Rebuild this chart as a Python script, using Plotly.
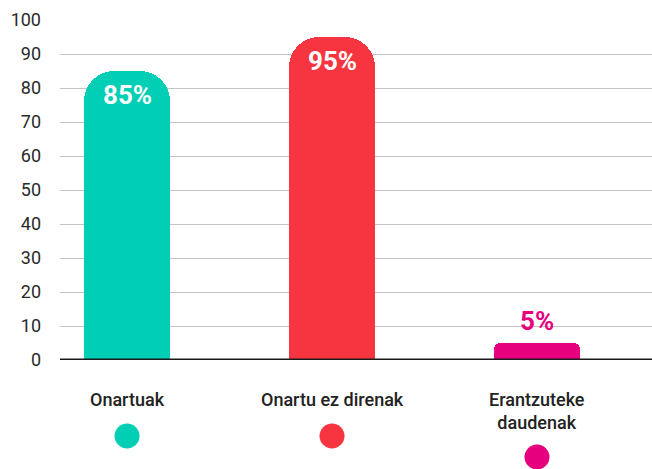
import plotly.graph_objects as go

categories = ["Onartuak", "Onartu ez direnak", "Erantzuteke<br>daudenak"]
values = [85, 95, 5]
value_labels = ["85%", "95%", "5%"]
colors = ["#00CEB5", "#F73541", "#E6007E"]
tick_vals = list(range(0, 101, 10))

# style constants (pixel offsets below axis for legend dots)
dot_offsets_px = [76, 76, 97]
DOT_R = 12.5
corner_radii = [30, 30, 6]

fig = go.Figure()
xs = [0, 1, 2]
for i in range(3):
    fig.add_trace(go.Bar(
        x=[xs[i]], y=[values[i]], width=0.424,
        marker=dict(color=colors[i], cornerradius=corner_radii[i], line=dict(width=0)),
        showlegend=False, hoverinfo="skip",
    ))

shapes = [dict(type="line", xref="paper", yref="y", x0=0, x1=1, y0=0, y1=0,
               line=dict(color="#1a1a1a", width=3), layer="above")]
# legend dots under category labels
for i in range(3):
    shapes.append(dict(
        type="circle", xref="x", yref="paper",
        xsizemode="pixel", ysizemode="pixel", xanchor=xs[i], yanchor=0,
        x0=-DOT_R, x1=DOT_R,
        y0=-dot_offsets_px[i] - DOT_R, y1=-dot_offsets_px[i] + DOT_R,
        fillcolor=colors[i], line=dict(width=0), layer="above",
    ))

annotations = []
for i in range(3):
    inside = values[i] > 20
    annotations.append(dict(
        x=xs[i], y=values[i], xref="x", yref="y", text=value_labels[i],
        showarrow=False, yanchor="middle",
        yshift=-24 if inside else 22,
        font=dict(family="Roboto", size=26, color="white" if inside else colors[i], weight=700),
    ))
    annotations.append(dict(
        x=xs[i], y=0, xref="x", yref="y", text=categories[i],
        showarrow=False, yanchor="top", yshift=-27,
        font=dict(family="Roboto", size=18, color="#222222", weight=500),
    ))

fig.update_layout(
    width=652, height=469,
    margin=dict(l=60, r=0, t=20, b=109, autoexpand=False),
    paper_bgcolor="white", plot_bgcolor="white",
    bargap=0,
    annotations=annotations,
    shapes=shapes,
    xaxis=dict(range=[-0.327, 2.561], showticklabels=False, showgrid=False,
               zeroline=False, showline=False, fixedrange=True),
    yaxis=dict(range=[0, 100], tickvals=tick_vals, showgrid=True, gridcolor="#c4c4c4",
               gridwidth=1, zeroline=False, showline=False,
               ticklabelstandoff=18,
               tickfont=dict(family="Roboto", size=18, color="#2a2a2a", weight=400)),
)

fig.write_html("out.html", config={"displayModeBar": False},
               post_script="document.body.style.margin='0px';")
